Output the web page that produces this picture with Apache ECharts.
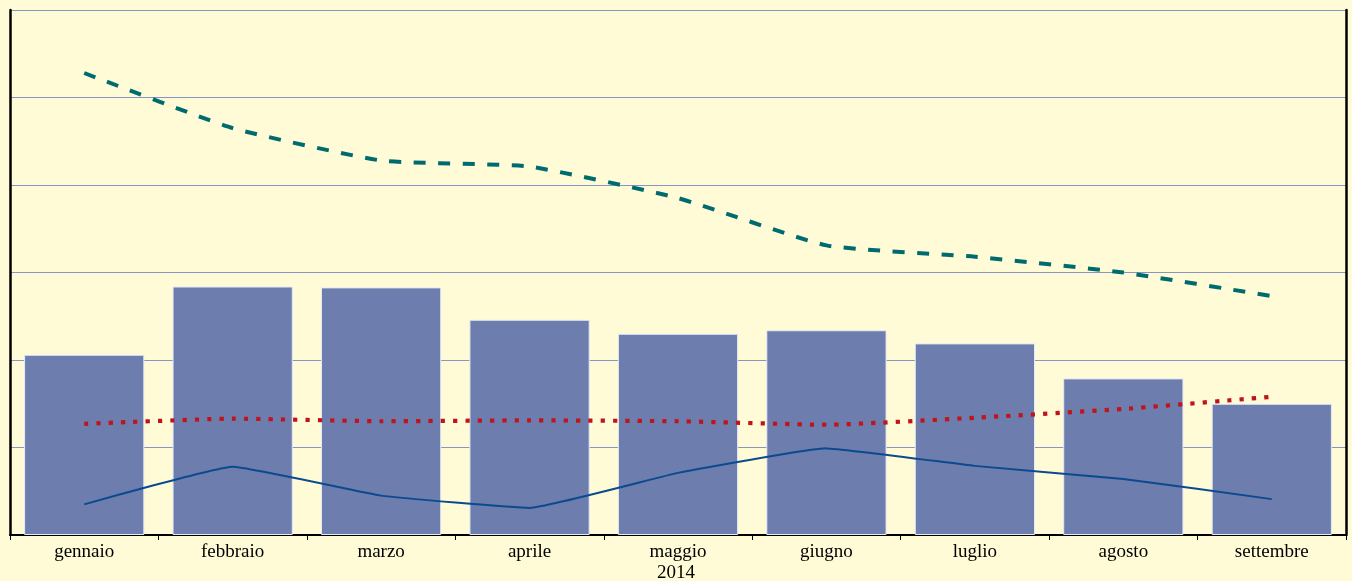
<!DOCTYPE html>
<html>
<head>
<meta charset="utf-8">
<script src="https://cdn.jsdelivr.net/npm/echarts@6/dist/echarts.min.js"></script>
<style>
html,body{margin:0;padding:0;background:#FFFBD6;}
#c{width:1352px;height:581px;}
</style>
</head>
<body>
<div id="c"></div>
<script>
var categories = ['gennaio','febbraio','marzo','aprile','maggio','giugno','luglio','agosto','settembre'];
var yearLabel = '2014';
var barValues = [2.06, 2.84, 2.83, 2.46, 2.30, 2.34, 2.19, 1.79, 1.50];
var dashedValues = [5.28, 4.65, 4.28, 4.21, 3.85, 3.31, 3.18, 3.00, 2.73];
var dottedValues = [1.27, 1.33, 1.30, 1.31, 1.30, 1.26, 1.34, 1.44, 1.58];
var solidValues = [0.35, 0.78, 0.45, 0.31, 0.71, 0.99, 0.79, 0.64, 0.41];

var chart = echarts.init(document.getElementById('c'), null, {renderer:'canvas'});
var font = '"Liberation Serif", "Times New Roman", serif';
chart.setOption({
  backgroundColor: '#FFFBD6',
  animation: false,
  title: {
    text: yearLabel,
    left: 'center',
    top: 563,
    padding: 0,
    textStyle: {fontFamily: font, fontSize: 19, fontWeight: 'normal', color: '#000', lineHeight: 20}
  },
  grid: {left: 10, right: 6, top: 10, bottom: 46, containLabel: false},
  xAxis: {
    type: 'category',
    data: categories,
    axisLine: {show: true, lineStyle: {color: '#000', width: 2}},
    axisTick: {show: true, alignWithLabel: false, length: 5, lineStyle: {color: '#000', width: 1}},
    axisLabel: {fontFamily: font, fontSize: 19, color: '#000', margin: 8},
    splitLine: {show: false}
  },
  yAxis: [{
    type: 'value',
    min: 0, max: 6, interval: 1,
    axisLine: {show: true, lineStyle: {color: '#000', width: 2.5}},
    axisTick: {show: false},
    axisLabel: {show: false},
    splitLine: {show: true, lineStyle: {color: '#8795C4', width: 1}}
  },{
    type: 'value',
    position: 'right',
    min: 0, max: 6, interval: 1,
    axisLine: {show: true, lineStyle: {color: '#000', width: 2.5}},
    axisTick: {show: false},
    axisLabel: {show: false},
    splitLine: {show: false}
  }],
  series: [{
    type: 'bar',
    data: barValues,
    barCategoryGap: '19%',
    itemStyle: {color: '#6D7DAE', borderColor: '#E6EAF5', borderWidth: 1},
    z: 2
  },{
    type: 'line',
    data: dashedValues,
    smooth: 0.15,
    symbol: 'none',
    lineStyle: {color: '#006B6F', width: 4, type: [12, 12.5]},
    z: 3
  },{
    type: 'line',
    data: dottedValues,
    smooth: 0.15,
    symbol: 'none',
    lineStyle: {color: '#C0141C', width: 4.2, type: [4.2, 8.1]},
    z: 3
  },{
    type: 'line',
    data: solidValues,
    smooth: 0.1,
    symbol: 'none',
    lineStyle: {color: '#0B4A8F', width: 2},
    z: 3
  }]
});
</script>
</body>
</html>
